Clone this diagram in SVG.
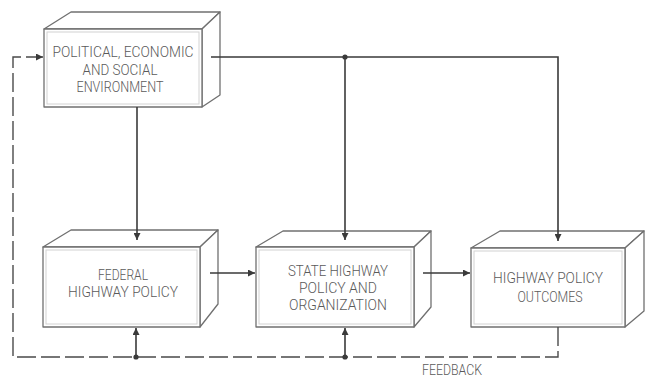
<svg xmlns="http://www.w3.org/2000/svg" width="651" height="378" viewBox="0 0 651 378">
  <defs>
    <marker id="arrow" viewBox="0 0 10 10" refX="10" refY="5" markerWidth="7" markerHeight="7" markerUnits="userSpaceOnUse" orient="auto">
      <path d="M0,0 L10,5 L0,10 z" fill="#3a3a3a"/>
    </marker>
  </defs>
  <style>
    .face { fill: #ffffff; stroke: #707070; stroke-width: 1.3; stroke-linejoin: round; }
    .inner { fill: none; stroke: #d2d2d2; stroke-width: 1; }
    .lbl { font-family: Roboto, "Liberation Sans", Arial, sans-serif; font-weight: 300; font-size: 15px; fill: #5a5a5a; text-anchor: middle; }
    .conn { fill: none; stroke: #3a3a3a; stroke-width: 1.6; }
    .dash { fill: none; stroke: #4a4a4a; stroke-width: 1.4; stroke-dasharray: 19 5; }
    .dot { fill: #3a3a3a; }
  </style>
  <rect width="651" height="378" fill="#ffffff"/>

  <!-- Political, economic and social environment -->
  <g id="environment">
    <polygon class="face" points="44,29 71,12 220,12 202,29"/>
    <polygon class="face" points="202,29 220,12 220,95 202,107"/>
    <rect class="face" x="44" y="29" width="158" height="78"/>
    <rect class="inner" x="47" y="32" width="152" height="72"/>
    <text class="lbl" x="123" y="57" textLength="141" lengthAdjust="spacingAndGlyphs">POLITICAL, ECONOMIC</text>
    <text class="lbl" x="120" y="75" textLength="75" lengthAdjust="spacingAndGlyphs">AND SOCIAL</text>
    <text class="lbl" x="120" y="92" textLength="87" lengthAdjust="spacingAndGlyphs">ENVIRONMENT</text>
  </g>

  <!-- Federal highway policy -->
  <g id="federal">
    <polygon class="face" points="43,247 71,230 218,230 200,247"/>
    <polygon class="face" points="200,247 218,230 218,304 200,327"/>
    <rect class="face" x="43" y="247" width="157" height="80"/>
    <rect class="inner" x="46" y="250" width="151" height="74"/>
    <text class="lbl" x="123" y="280" textLength="50" lengthAdjust="spacingAndGlyphs">FEDERAL</text>
    <text class="lbl" x="123" y="297" textLength="110" lengthAdjust="spacingAndGlyphs">HIGHWAY POLICY</text>
  </g>

  <!-- State highway policy and organization -->
  <g id="state">
    <polygon class="face" points="256,247 283,231 431,231 414,247"/>
    <polygon class="face" points="414,247 431,231 431,307 414,327"/>
    <rect class="face" x="256" y="247" width="158" height="80"/>
    <rect class="inner" x="259" y="250" width="152" height="74"/>
    <text class="lbl" x="338" y="276" textLength="100" lengthAdjust="spacingAndGlyphs">STATE HIGHWAY</text>
    <text class="lbl" x="338" y="293" textLength="78" lengthAdjust="spacingAndGlyphs">POLICY AND</text>
    <text class="lbl" x="338" y="310" textLength="98" lengthAdjust="spacingAndGlyphs">ORGANIZATION</text>
  </g>

  <!-- Highway policy outcomes -->
  <g id="outcomes">
    <polygon class="face" points="471,248 500,231 644,231 625,248"/>
    <polygon class="face" points="625,248 644,231 644,311 625,327"/>
    <rect class="face" x="471" y="248" width="154" height="79"/>
    <rect class="inner" x="474" y="251" width="148" height="73"/>
    <text class="lbl" x="548" y="283" textLength="110" lengthAdjust="spacingAndGlyphs">HIGHWAY POLICY</text>
    <text class="lbl" x="550" y="302" textLength="65" lengthAdjust="spacingAndGlyphs">OUTCOMES</text>
  </g>

  <!-- Connectors -->
  <g id="connectors">
    <path class="conn" d="M211,57 H558 V241" marker-end="url(#arrow)"/>
    <path class="conn" d="M345,57 V240" marker-end="url(#arrow)"/>
    <circle class="dot" cx="345" cy="57" r="2.6"/>
    <path class="conn" d="M137,107 V240" marker-end="url(#arrow)"/>
    <path class="conn" d="M210,273 H255" marker-end="url(#arrow)"/>
    <path class="conn" d="M423,273 H470" marker-end="url(#arrow)"/>
    <path class="dash" d="M558,327 V357 H13 V57 H43" marker-end="url(#arrow)"/>
    <path class="conn" d="M136,357 V328" marker-end="url(#arrow)"/>
    <circle class="dot" cx="136" cy="357" r="2.6"/>
    <path class="conn" d="M345,357 V328" marker-end="url(#arrow)"/>
    <circle class="dot" cx="345" cy="357" r="2.6"/>
    <text class="lbl" x="452" y="375" textLength="60" lengthAdjust="spacingAndGlyphs">FEEDBACK</text>
  </g>
</svg>
